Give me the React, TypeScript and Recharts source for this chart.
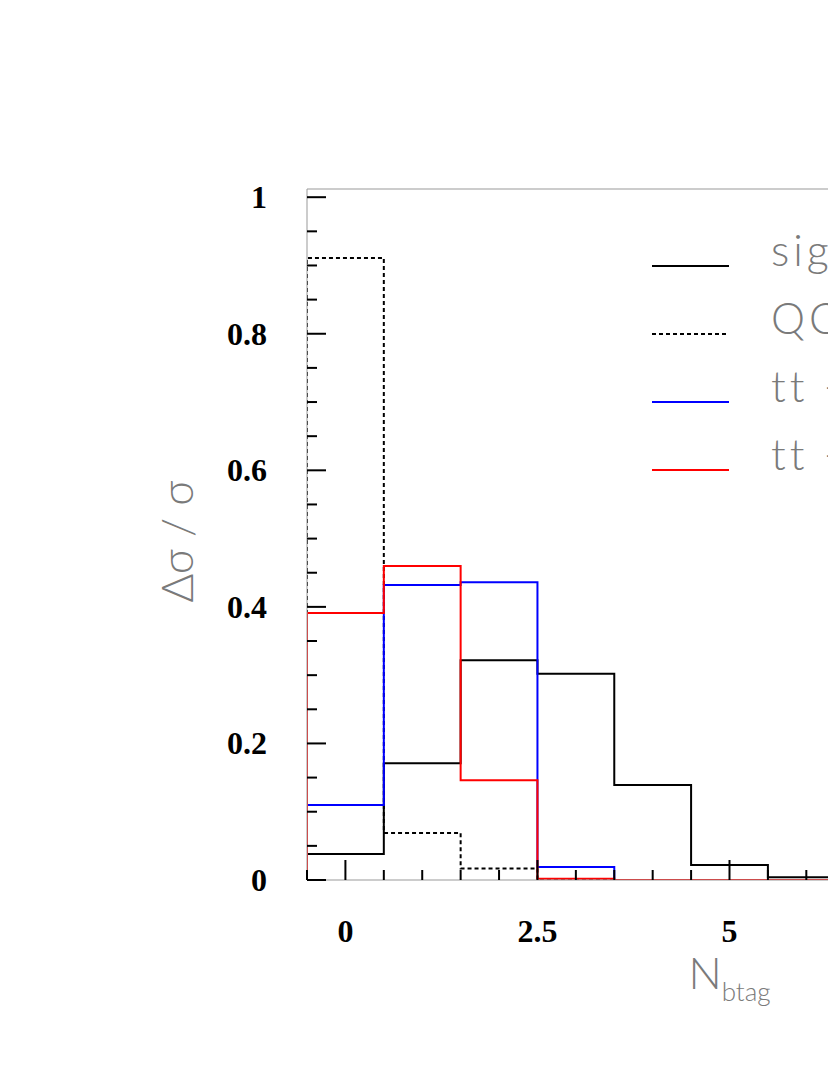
import React from 'react';
import { ComposedChart, Line, XAxis, YAxis, Legend, ReferenceLine } from 'recharts';

// ---- data ----
const binCenters = [0, 1, 2, 3, 4, 5, 6, 7, 8, 9, 10];
const signal = [0.038, 0.171, 0.322, 0.302, 0.139, 0.022, 0.004, 0.001, 0, 0, 0];
const qcd = [0.911, 0.069, 0.017, 0, 0, 0, 0, 0, 0, 0, 0];
const ttBlue = [0.110, 0.432, 0.436, 0.019, 0, 0, 0, 0, 0, 0, 0];
const ttRed = [0.391, 0.460, 0.146, 0.002, 0, 0, 0, 0, 0, 0, 0];

const seriesNames = ['signal', 'QCD', 'tt → hadrons', 'tt → leptons'];
const seriesColors = ['#000000', '#000000', '#0000ff', '#ff0000'];
const seriesDash = ['', '4 3', '', ''];

const xTicks = [-0.5, 0, 0.5, 1, 1.5, 2, 2.5, 3, 3.5, 4, 4.5, 5, 5.5, 6, 6.5, 7, 7.5, 8, 8.5, 9, 9.5, 10, 10.5];
const xLabels = [0, 2.5, 5, 7.5, 10];
const yTicks = [0, 0.05, 0.1, 0.15, 0.2, 0.25, 0.3, 0.35, 0.4, 0.45, 0.5, 0.55, 0.6, 0.65, 0.7, 0.75, 0.8, 0.85, 0.9, 0.95, 1];
const yLabels = [0, 0.2, 0.4, 0.6, 0.8, 1];

const xDomain = [-0.5, 10.5];
const yTop = 1.012;

const GRAY_FONT = 'Lato, "DejaVu Sans", sans-serif';
const TEXT_GRAY = '#7a7a7a';

function toSteps(values: number[]) {
  const pts: { x: number; y: number }[] = [];
  pts.push({ x: binCenters[0] - 0.5, y: 0 });
  values.forEach((v, i) => pts.push({ x: binCenters[i] - 0.5, y: v }));
  const last = binCenters.length - 1;
  pts.push({ x: binCenters[last] + 0.5, y: values[last] });
  pts.push({ x: binCenters[last] + 0.5, y: 0 });
  return pts;
}

const seriesData = [signal, qcd, ttBlue, ttRed].map(toSteps);

const YTick = (props: any) => {
  const { x, y, payload } = props;
  const v = payload.value;
  const major = yLabels.some((l) => Math.abs(l - v) < 1e-9);
  return (
    <g>
      <line x1={x} x2={x + (major ? 19 : 10)} y1={y} y2={y} stroke="#000" strokeWidth={2} />
      {major && (
        <text x={x - 40} y={y + 11} textAnchor="end" fontFamily='"Liberation Serif", "Times New Roman", serif' fontWeight="bold" fontSize={32} fill="#000">
          {String(v)}
        </text>
      )}
    </g>
  );
};

const XTick = (props: any) => {
  const { x, y, payload } = props;
  const v = payload.value;
  const major = xLabels.some((l) => Math.abs(l - v) < 1e-9);
  return (
    <g>
      <line x1={x} x2={x} y1={y} y2={y - (major ? 20 : 10)} stroke="#000" strokeWidth={2} />
      {major && (
        <text x={x} y={y + 62} textAnchor="middle" fontFamily='"Liberation Serif", "Times New Roman", serif' fontWeight="bold" fontSize={32} fill="#000">
          {String(v)}
        </text>
      )}
    </g>
  );
};

const YLabel = (props: any) => {
  const vb = props.viewBox || {};
  const cx = vb.x + vb.width - 114;
  const cy = vb.y + vb.height / 2 + 7;
  return (
    <text x={cx} y={cy} transform={`rotate(-90, ${cx}, ${cy})`} textAnchor="middle" fontFamily={GRAY_FONT} fontWeight={300} fontSize={44} fill={TEXT_GRAY}>
      Δσ / σ
    </text>
  );
};

const XLabel = (props: any) => {
  const vb = props.viewBox || {};
  const cx = vb.x + vb.width / 2;
  const y = vb.y + 109;
  return (
    <text x={cx} y={y} textAnchor="middle" fontFamily={GRAY_FONT} fontWeight={300} fill={TEXT_GRAY}>
      <tspan fontSize={44}>N</tspan>
      <tspan fontSize={26} dy={12}>btag</tspan>
    </text>
  );
};

const renderLegend = () => (
  <svg width={400} height={300} style={{ overflow: 'visible' }}>
    {seriesNames.map((name, i) => {
      const y = 46 + i * 68;
      return (
        <g key={name}>
          <line x1={12} x2={89} y1={y} y2={y} stroke={seriesColors[i]} strokeWidth={2} strokeDasharray={seriesDash[i] || undefined} />
          <text x={131} y={y} fontFamily={GRAY_FONT} fontWeight={300} fontSize={43} letterSpacing={4} fill={TEXT_GRAY}>
            {name}
          </text>
        </g>
      );
    })}
  </svg>
);

export default function App() {
  return (
    <div style={{ position: 'fixed', left: 0, top: 0, width: 828, height: 1072, overflow: 'hidden', background: '#fff' }}>
      <ComposedChart width={1202} height={1072} margin={{ top: 189, right: 50, bottom: 132, left: 207 }}>
        <XAxis
          type="number"
          dataKey="x"
          domain={xDomain}
          ticks={xTicks}
          interval={0}
          tickSize={0}
          tickMargin={0}
          tickLine={false}
          tick={<XTick />}
          height={60}
          axisLine={{ stroke: '#999', strokeWidth: 1 }}
          label={<XLabel />}
          allowDataOverflow
        />
        <YAxis
          type="number"
          domain={[0, yTop]}
          ticks={yTicks}
          interval={0}
          tickSize={0}
          tickMargin={0}
          tickLine={false}
          tick={<YTick />}
          width={100}
          axisLine={{ stroke: '#999', strokeWidth: 1 }}
          label={<YLabel />}
          allowDataOverflow
        />
        <ReferenceLine y={yTop} stroke="#999" strokeWidth={1} />
        <ReferenceLine x={xDomain[1]} stroke="#999" strokeWidth={1} />
        {seriesData.map((pts, i) => (
          <Line
            key={seriesNames[i]}
            data={pts}
            dataKey="y"
            type="stepAfter"
            name={seriesNames[i]}
            stroke={seriesColors[i]}
            strokeWidth={2}
            strokeDasharray={seriesDash[i] || undefined}
            dot={false}
            activeDot={false}
            isAnimationActive={false}
          />
        ))}
        <Legend
          layout="vertical"
          align="center"
          verticalAlign="middle"
          content={renderLegend}
          wrapperStyle={{ top: 220, left: 640, width: 400, height: 300 }}
        />
      </ComposedChart>
    </div>
  );
}
